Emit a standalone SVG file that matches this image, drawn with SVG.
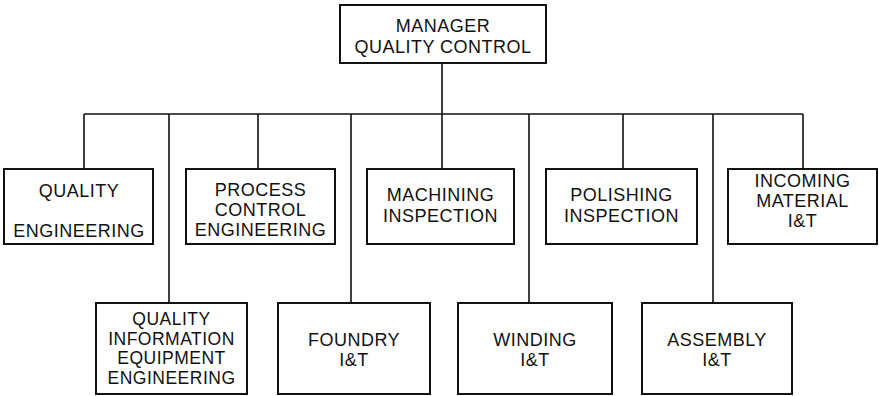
<svg xmlns="http://www.w3.org/2000/svg" width="879" height="396" viewBox="0 0 879 396">
<style>
.box{fill:#fff;stroke:#111;stroke-width:2}
.ln{fill:none;stroke:#111;stroke-width:1.6}
text{font-family:"Liberation Sans",Arial,sans-serif;font-size:18px;letter-spacing:0.5px;fill:#111;text-anchor:middle}
.sm{font-size:17.5px}
</style>
<rect width="879" height="396" fill="#fff"/>
<g id="connectors" class="ln">
<path d="M442 63V114M84 114H803"/>
<path d="M84 114V169M169 114V303M258 114V169M351 114V303M442 114V169M529 114V303M623 114V169M713 114V303M803 114V169"/>
</g>
<g id="manager"><rect class="box" x="340" y="5" width="206" height="58"/><text x="443" y="32">MANAGER</text><text x="443" y="53">QUALITY CONTROL</text></g>
<g id="quality-engineering"><rect class="box" x="4" y="169" width="149" height="75"/><text x="79" y="197">QUALITY</text><text x="79" y="237">ENGINEERING</text></g>
<g id="process-control"><rect class="box" x="186" y="169" width="149" height="75"/><text x="260.5" y="196">PROCESS</text><text x="260.5" y="216">CONTROL</text><text x="260.5" y="236">ENGINEERING</text></g>
<g id="machining"><rect class="box" x="367" y="169" width="147" height="75"/><text x="440.5" y="201">MACHINING</text><text x="440.5" y="222">INSPECTION</text></g>
<g id="polishing"><rect class="box" x="546" y="169" width="151" height="75"/><text x="621.5" y="201">POLISHING</text><text x="621.5" y="222">INSPECTION</text></g>
<g id="incoming"><rect class="box" x="728" y="169" width="149" height="75"/><text x="802.5" y="187">INCOMING</text><text x="802.5" y="207">MATERIAL</text><text x="802.5" y="227">I&amp;T</text></g>
<g id="qiee"><rect class="box" x="96" y="303" width="151" height="91"/><text class="sm" x="171.5" y="325">QUALITY</text><text class="sm" x="171.5" y="344.5">INFORMATION</text><text class="sm" x="171.5" y="364">EQUIPMENT</text><text class="sm" x="171.5" y="383.5">ENGINEERING</text></g>
<g id="foundry"><rect class="box" x="278" y="303" width="152" height="91"/><text x="354" y="346">FOUNDRY</text><text x="354" y="366">I&amp;T</text></g>
<g id="winding"><rect class="box" x="458" y="303" width="154" height="91"/><text x="535" y="346">WINDING</text><text x="535" y="366">I&amp;T</text></g>
<g id="assembly"><rect class="box" x="642" y="303" width="150" height="91"/><text x="717" y="346">ASSEMBLY</text><text x="717" y="366">I&amp;T</text></g>
</svg>
